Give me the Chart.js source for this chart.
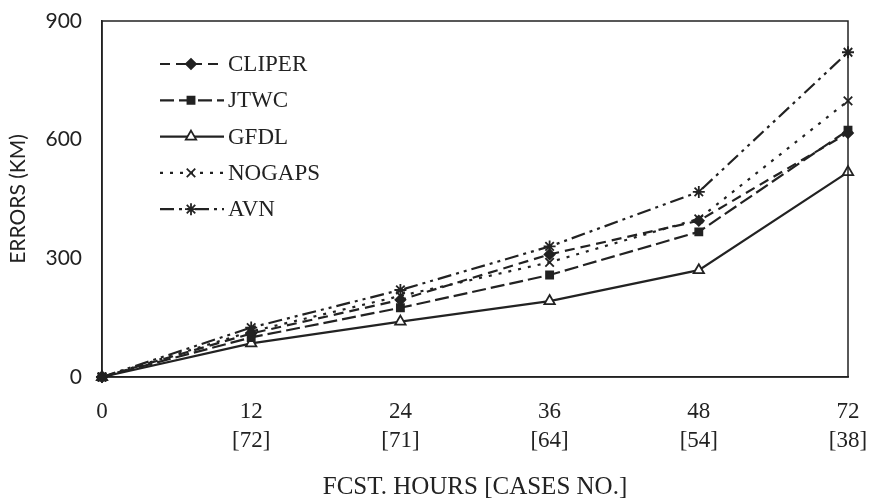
<!DOCTYPE html>
<html>
<head>
<meta charset="utf-8">
<script src="https://cdn.jsdelivr.net/npm/chart.js@4"></script>
<style>
html,body{margin:0;padding:0;background:#fff;}
#wrap{width:871px;height:502px;position:relative;}
</style>
</head>
<body>
<div id="wrap"><canvas id="c" width="871" height="502"></canvas></div>
<script>
const hours = ['0', '12', '24', '36', '48', '72'];
const cases = ['', '[72]', '[71]', '[64]', '[54]', '[38]'];
const cliper = [0, 110, 195, 310, 395, 617];
const jtwc   = [0, 100, 175, 258, 367, 624];
const gfdl   = [0, 85, 140, 192, 270, 518];
const nogaps = [0, 115, 205, 290, 400, 698];
const avn    = [0, 125, 220, 330, 468, 821];
const yTicks = [0, 300, 600, 900];

const labels = hours.map((h, i) => cases[i] ? [h, cases[i]] : [h]);
const INK = '#222';
const SERIF = '"Liberation Serif", "Times New Roman", serif';
const SANS = 'Lato, "Open Sans", sans-serif';

function ds(label, data, dash, style, fill, radius) {
  return {
    label, data,
    borderColor: INK, borderWidth: 2.2, borderDash: dash,
    pointStyle: style, pointRadius: radius, pointHoverRadius: radius,
    pointBackgroundColor: fill, pointBorderColor: INK, pointBorderWidth: 1.8,
    tension: 0, clip: false, fill: false
  };
}

const datasets = [
  ds('CLIPER', cliper, [10, 6], 'rectRot', INK, 5),
  ds('JTWC', jtwc, [14, 5], 'rect', INK, 5),
  ds('GFDL', gfdl, [], 'triangle', '#fff', 6),
  ds('NOGAPS', nogaps, [3, 7], 'crossRot', INK, 6),
  ds('AVN', avn, [14, 5, 3, 5, 3, 5], 'star', INK, 6)
];

const framePlugin = {
  id: 'frame',
  afterDatasetsDraw(chart) {
    const {ctx, chartArea: a} = chart;
    ctx.save();
    ctx.strokeStyle = INK;
    ctx.lineWidth = 1.5;
    ctx.strokeRect(a.left, a.top, a.right - a.left, a.bottom - a.top);
    ctx.restore();
  }
};

const legendPlugin = {
  id: 'customLegend',
  afterDraw(chart) {
    const ctx = chart.ctx;
    const x0 = 160, x1 = 224, xm = 191, tx = 228, y0 = 64, dy = 36.3;
    chart.data.datasets.forEach((d, i) => {
      const y = y0 + i * dy;
      ctx.save();
      ctx.strokeStyle = INK;
      ctx.lineWidth = 2.2;
      ctx.setLineDash(d.borderDash || []);
      ctx.beginPath();
      ctx.moveTo(x0, y);
      ctx.lineTo(x1, y);
      ctx.stroke();
      ctx.setLineDash([]);
      ctx.fillStyle = d.pointBackgroundColor;
      ctx.strokeStyle = INK;
      ctx.lineWidth = d.pointBorderWidth;
      Chart.helpers.drawPoint(ctx, {pointStyle: d.pointStyle, radius: d.pointRadius, rotation: 0, borderWidth: d.pointBorderWidth}, xm, y);
      ctx.fillStyle = INK;
      ctx.font = '23px ' + SERIF;
      ctx.textBaseline = 'middle';
      ctx.textAlign = 'left';
      ctx.fillText(d.label, tx, y + 1);
      ctx.restore();
    });
  }
};

new Chart(document.getElementById('c'), {
  type: 'line',
  data: { labels, datasets },
  plugins: [framePlugin, legendPlugin],
  options: {
    responsive: false,
    animation: false,
    devicePixelRatio: 1,
    layout: { padding: { left: 6, right: 23, top: 21, bottom: 0 } },
    plugins: { legend: { display: false }, tooltip: { enabled: false } },
    scales: {
      x: {
        type: 'category',
        offset: false,
        grid: { display: false, drawTicks: false },
        border: { display: true, color: INK, width: 1.5 },
        ticks: { color: INK, font: { family: SERIF, size: 23, lineHeight: 1.25 }, padding: 21, maxRotation: 0, autoSkip: false },
        title: { display: true, text: 'FCST. HOURS [CASES NO.]', color: INK, font: { family: SERIF, size: 25 }, padding: { top: 2, bottom: 0 } },
        afterFit(s) { s.height = 125; s.paddingLeft = 0; s.paddingRight = 0; }
      },
      y: {
        min: 0, max: 900,
        afterBuildTicks(s) { s.ticks = yTicks.map(v => ({ value: v })); },
        grid: { display: false, drawTicks: false },
        border: { display: true, color: INK, width: 1.5 },
        ticks: { color: INK, font: { family: SANS, size: 21 }, padding: 20 },
        title: { display: true, text: 'ERRORS (KM)', color: INK, font: { family: SANS, size: 21 }, padding: { top: 0, bottom: 6 } },
        afterFit(s) { s.width = 96; s.paddingTop = 0; s.paddingBottom = 0; }
      }
    }
  }
});
</script>
</body>
</html>
